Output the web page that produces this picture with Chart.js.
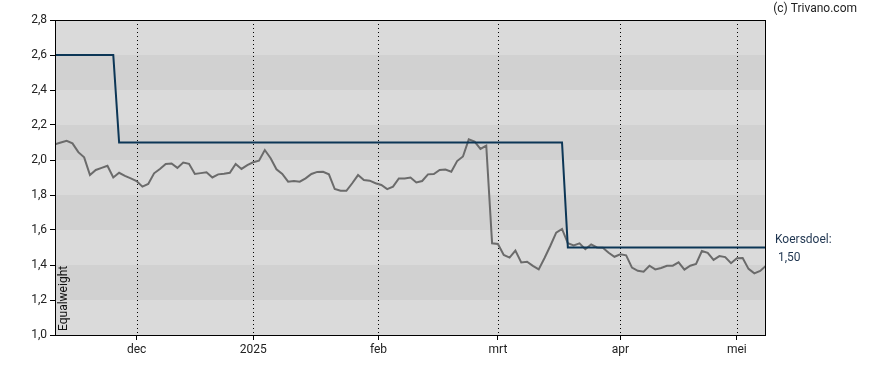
<!DOCTYPE html>
<html>
<head>
<meta charset="utf-8">
<script src="https://cdn.jsdelivr.net/npm/chart.js@4.4.6/dist/chart.umd.min.js"></script>
<style>
  html, body { margin: 0; padding: 0; background: #fff; }
  #wrap { width: 888px; height: 370px; position: relative; }
</style>
</head>
<body>
<div id="wrap"><canvas id="c"></canvas></div>
<script>
// koers per handelsdag (index 0 = half nov 2024, laatste = begin mei 2025)
const price = [
  2.09, 2.10, 2.11, 2.095, 2.045, 2.015, 1.914, 1.943, 1.955, 1.967,
  1.90, 1.927, 1.909, 1.895, 1.88, 1.848, 1.863, 1.924, 1.949, 1.977,
  1.98, 1.955, 1.985, 1.978, 1.92, 1.925, 1.93, 1.90, 1.918, 1.922,
  1.927, 1.977, 1.949, 1.971, 1.987, 1.996, 2.057, 2.01, 1.947, 1.92,
  1.876, 1.88, 1.876, 1.895, 1.92, 1.932, 1.933, 1.918, 1.834, 1.824,
  1.824, 1.867, 1.914, 1.886, 1.882, 1.867, 1.857, 1.834, 1.848, 1.895,
  1.895, 1.90, 1.872, 1.88, 1.918, 1.92, 1.943, 1.945, 1.933, 1.994,
  2.02, 2.118, 2.105, 2.063, 2.082, 1.524, 1.52, 1.457, 1.442, 1.482,
  1.415, 1.419, 1.395, 1.375, 1.44, 1.51, 1.585, 1.606, 1.524, 1.512,
  1.524, 1.49, 1.518, 1.50, 1.499, 1.47, 1.447, 1.461, 1.455, 1.385,
  1.367, 1.362, 1.396, 1.375, 1.383, 1.396, 1.396, 1.415, 1.374, 1.396,
  1.406, 1.48, 1.47, 1.429, 1.451, 1.445, 1.41, 1.438, 1.44, 1.378,
  1.352, 1.366, 1.396
]

// koersdoel: hoekpunten (index, waarde)
const targetIdx = [0, 10, 11, 87, 88, 122]
const targetVal = [2.6, 2.6, 2.1, 2.1, 1.5, 1.5]

// maand-ticks op de x-as
const monthIdx = [14, 34, 55.5, 76, 97, 117]
const monthLabels = ['dec', '2025', 'feb', 'mrt', 'apr', 'mei']

const yMin = 1.0
const yMax = 2.8
const yStep = 0.2

const rating = 'Equalweight'
const targetLabel = 'Koersdoel:'
const targetText = '1,50'
const credit = '(c) Trivano.com'

const FONT = 'Roboto, "DejaVu Sans", sans-serif'
const fmt = v => v.toFixed(1).replace('.', ',')

// achtergrondbanden + gestippelde maandlijnen + kader + teksten
const decor = {
  id: 'decor',
  beforeDatasetsDraw (chart) {
    const { ctx, chartArea: a, scales: { x, y } } = chart
    ctx.save()
    y.ticks.forEach((t, k) => {
      if (k === y.ticks.length - 1) return
      const top = y.getPixelForValue(y.ticks[k + 1].value)
      const bot = y.getPixelForValue(t.value)
      ctx.fillStyle = k % 2 ? '#d1d1d1' : '#dadada'
      ctx.fillRect(a.left, top, a.right - a.left, bot - top)
    })
    ctx.strokeStyle = '#000'
    ctx.lineWidth = 1
    ctx.setLineDash([1, 3])
    monthIdx.forEach(v => {
      const px = Math.round(x.getPixelForValue(v)) + 0.5
      ctx.beginPath()
      ctx.moveTo(px, a.top)
      ctx.lineTo(px, a.bottom)
      ctx.stroke()
    })
    ctx.restore()
  },
  afterDraw (chart) {
    const { ctx, chartArea: a, scales: { y } } = chart
    ctx.save()
    ctx.strokeStyle = '#000'
    ctx.lineWidth = 1
    ctx.strokeRect(a.left + 0.5, a.top + 0.5, a.right - a.left - 1, a.bottom - a.top)

    ctx.font = '12px ' + FONT
    ctx.fillStyle = '#222'
    ctx.textBaseline = 'middle'
    ctx.textAlign = 'right'
    ctx.fillText(credit, 857, 9)

    const ty = y.getPixelForValue(targetVal[targetVal.length - 1])
    ctx.textAlign = 'left'
    ctx.fillStyle = '#1f3550'
    ctx.fillText(targetLabel, a.right + 9, ty - 8)
    ctx.fillText(targetText, a.right + 12, ty + 10)

    ctx.translate(a.left + 12, a.bottom - 4)
    ctx.rotate(-Math.PI / 2)
    ctx.fillStyle = '#111'
    ctx.textBaseline = 'alphabetic'
    ctx.fillText(rating, 0, 0)
    ctx.restore()
  }
}

new Chart(document.getElementById('c'), {
  type: 'line',
  data: {
    datasets: [
      {
        label: 'Koers',
        data: price.map((v, i) => ({ x: i, y: v })),
        borderColor: '#6b6b6b',
        borderWidth: 2,
        pointRadius: 0,
        tension: 0,
        order: 2
      },
      {
        label: 'Koersdoel',
        data: targetIdx.map((v, i) => ({ x: v, y: targetVal[i] })),
        borderColor: '#0c3656',
        borderWidth: 2,
        pointRadius: 0,
        tension: 0,
        order: 1
      }
    ]
  },
  plugins: [decor],
  options: {
    responsive: true,
    maintainAspectRatio: false,
    animation: false,
    layout: { padding: { left: 0, right: 122, top: 20, bottom: 0 } },
    plugins: { legend: { display: false }, tooltip: { enabled: false } },
    scales: {
      x: {
        type: 'linear',
        min: 0,
        max: price.length - 1,
        afterBuildTicks: s => { s.ticks = monthIdx.map(v => ({ value: v })) },
        afterFit: s => { s.height = 35 },
        ticks: {
          autoSkip: false,
          maxRotation: 0,
          padding: 3,
          color: '#222',
          font: { family: FONT, size: 12 },
          callback: (v, i) => monthLabels[i]
        },
        grid: { drawOnChartArea: false, drawTicks: true, tickLength: 5, color: '#000' },
        border: { display: false }
      },
      y: {
        min: yMin,
        max: yMax,
        afterFit: s => { s.width = 55 },
        ticks: {
          stepSize: yStep,
          padding: 3,
          color: '#222',
          font: { family: FONT, size: 12 },
          callback: v => fmt(v)
        },
        grid: { drawOnChartArea: false, drawTicks: true, tickLength: 5, color: '#000' },
        border: { display: false }
      }
    }
  }
})
</script>
</body>
</html>
